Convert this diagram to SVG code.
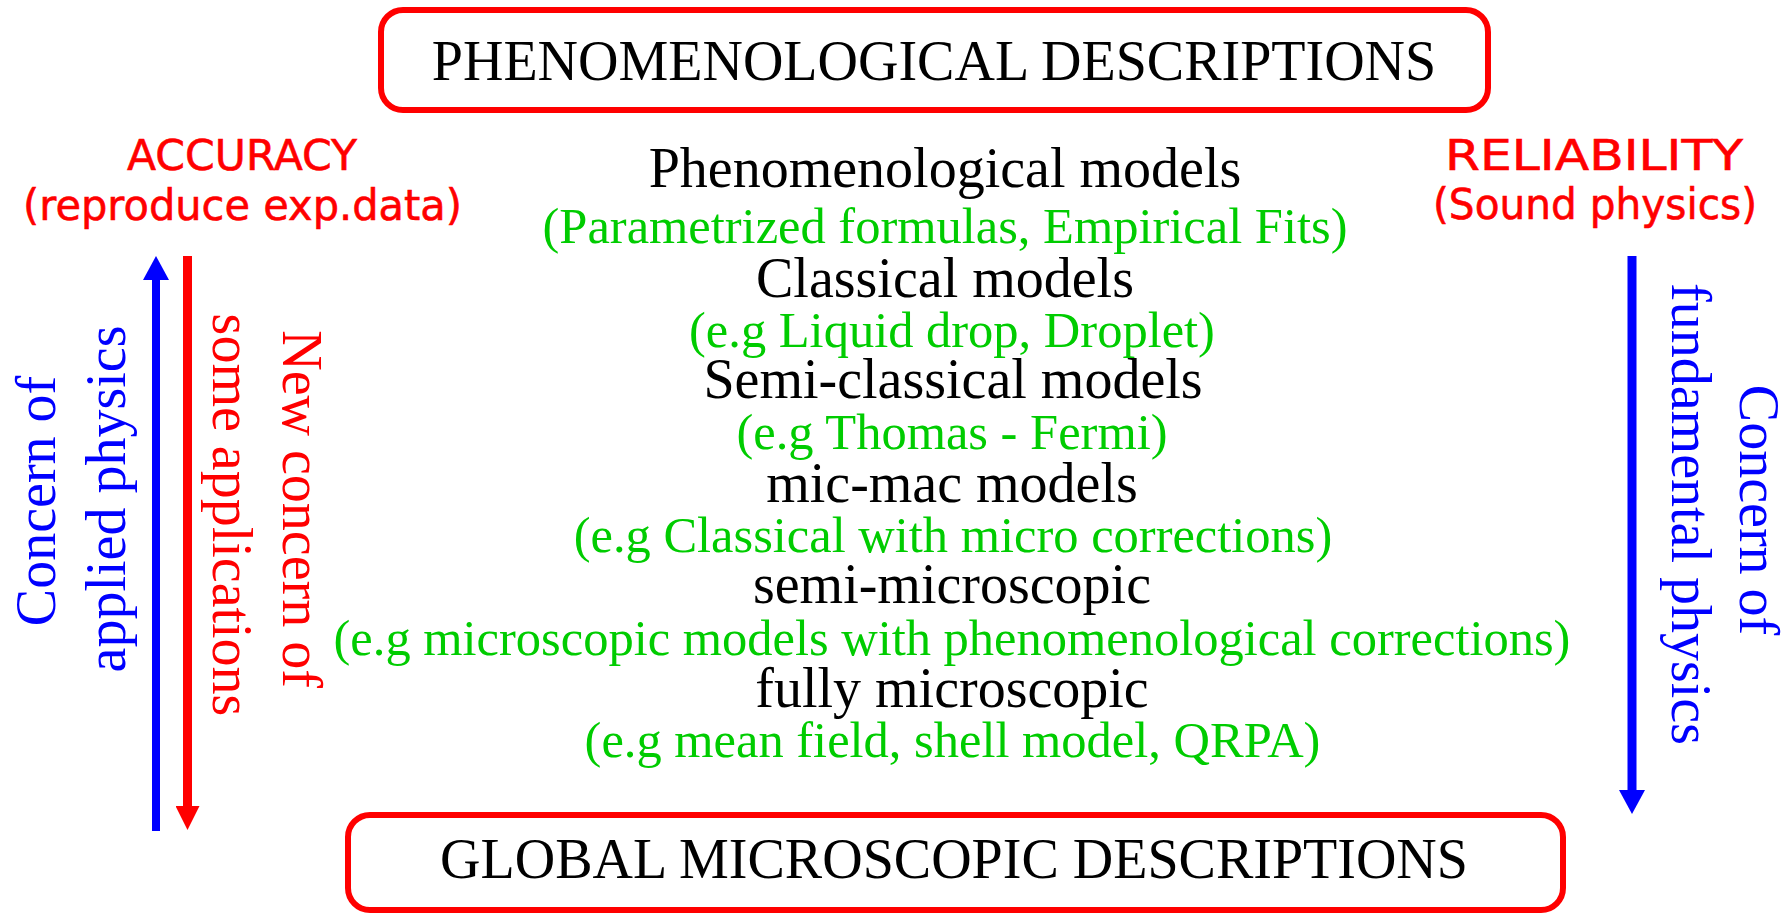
<svg xmlns="http://www.w3.org/2000/svg" width="1792" height="914" viewBox="0 0 1792 914">
<style>
.box{fill:#fff;stroke:#ff0000;stroke-width:6}
.t{font-family:"Liberation Serif","Times New Roman",serif;font-size:56px;text-anchor:middle}
.k{fill:#000}
.g{fill:#00cc00;font-size:50.5px}
.b{fill:#0000ff}
.r{fill:#ff0000}
.c{font-family:"DejaVu Sans","Noto Sans",sans-serif;font-size:43px;text-anchor:middle;fill:#ff0000;stroke:#ff0000;stroke-width:0.6}
</style>
<defs>
<marker id="hb" markerUnits="userSpaceOnUse" viewBox="0 0 24 26" markerWidth="24" markerHeight="26" refX="0" refY="13" orient="auto"><path d="M0,0 L24,13 L0,26 z" fill="#0000ff"/></marker>
<marker id="hr" markerUnits="userSpaceOnUse" viewBox="0 0 24 24" markerWidth="24" markerHeight="24" refX="0" refY="12" orient="auto"><path d="M0,0 L24,12 L0,24 z" fill="#ff0000"/></marker>
</defs>
<rect width="1792" height="914" fill="#fff"/>
<g id="phenomenological">
<rect class="box" x="381" y="10" width="1107" height="100" rx="22"/>
<text class="t k" x="934" y="80">PHENOMENOLOGICAL DESCRIPTIONS</text>
</g>
<g id="global">
<rect class="box" x="348" y="815" width="1215" height="95" rx="22"/>
<text class="t k" x="954" y="878">GLOBAL MICROSCOPIC DESCRIPTIONS</text>
</g>
<g id="accuracy">
<text class="c" x="242" y="170" textLength="230" lengthAdjust="spacingAndGlyphs">ACCURACY</text>
<text class="c" x="242.5" y="220" textLength="439" lengthAdjust="spacingAndGlyphs">(reproduce exp.data)</text>
</g>
<g id="reliability">
<text class="c" x="1594" y="170" textLength="298" lengthAdjust="spacingAndGlyphs">RELIABILITY</text>
<text class="c" x="1595" y="219" textLength="324" lengthAdjust="spacingAndGlyphs">(Sound physics)</text>
</g>
<g id="models">
<text class="t k" x="945" y="187">Phenomenological models</text>
<text class="t g" x="945" y="243">(Parametrized formulas, Empirical Fits)</text>
<text class="t k" x="945" y="297">Classical models</text>
<text class="t g" x="952" y="347">(e.g Liquid drop, Droplet)</text>
<text class="t k" x="953" y="398">Semi-classical models</text>
<text class="t g" x="952" y="449">(e.g Thomas - Fermi)</text>
<text class="t k" x="952" y="502">mic-mac models</text>
<text class="t g" x="953" y="552">(e.g Classical with micro corrections)</text>
<text class="t k" x="952" y="603">semi-microscopic</text>
<text class="t g" x="952" y="655">(e.g microscopic models with phenomenological corrections)</text>
<text class="t k" x="952" y="707">fully microscopic</text>
<text class="t g" x="952.5" y="757">(e.g mean field, shell model, QRPA)</text>
</g>
<g id="applied-label">
<text class="t b" transform="translate(55,501) rotate(-90)">Concern of</text>
<text class="t b" transform="translate(125,499) rotate(-90)">applied physics</text>
</g>
<g id="new-concern-label">
<text class="t r" transform="translate(283,509) rotate(90)">New concern of</text>
<text class="t r" transform="translate(213,515) rotate(90)">some applications</text>
</g>
<g id="fundamental-label">
<text class="t b" transform="translate(1740,510) rotate(90)">Concern of</text>
<text class="t b" transform="translate(1672,514) rotate(90)">fundamental physics</text>
</g>
<g id="connectors" fill="none">
<line x1="156" y1="831" x2="156" y2="280" stroke="#0000ff" stroke-width="8" marker-end="url(#hb)"/>
<line x1="187.5" y1="256" x2="187.5" y2="806" stroke="#ff0000" stroke-width="9" marker-end="url(#hr)"/>
<line x1="1632" y1="256" x2="1632" y2="790" stroke="#0000ff" stroke-width="9" marker-end="url(#hb)"/>
</g>
</svg>
